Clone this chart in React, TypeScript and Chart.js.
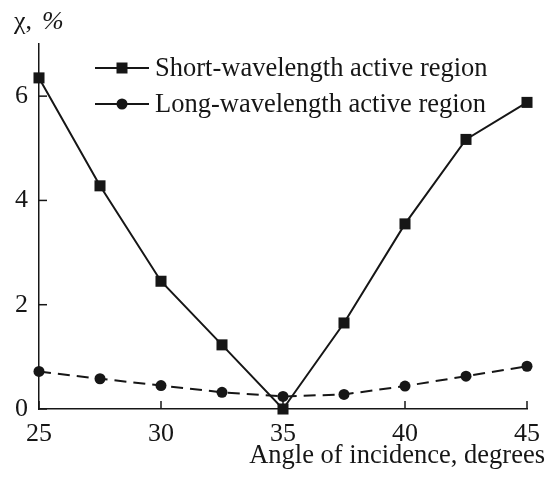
import React, { useEffect, useRef } from "react";
import { Chart, registerables } from "chart.js";

Chart.register(...registerables);

const angles = [25, 27.5, 30, 32.5, 35, 37.5, 40, 42.5, 45];
const shortWave = [6.35, 4.28, 2.45, 1.23, 0.0, 1.65, 3.55, 5.17, 5.88];
const longWave = [0.72, 0.58, 0.45, 0.32, 0.24, 0.28, 0.44, 0.63, 0.82];
const xTicks = [25, 30, 35, 40, 45];
const yTicks = [0, 2, 4, 6];
const seriesNames = ["Short-wavelength active region", "Long-wavelength active region"];
const xTitle = "Angle of incidence, degrees";

const FONT = "'Liberation Serif', 'Times New Roman', serif";
const INK = "#161616";

const overlay = {
  id: "overlay",
  afterDraw(chart: any) {
    const ctx = chart.ctx;
    const xs = chart.scales.x;
    const ys = chart.scales.y;
    const area = chart.chartArea;
    ctx.save();
    ctx.strokeStyle = INK;
    ctx.lineWidth = 1.5;
    // inward ticks
    for (const v of xTicks) {
      const px = xs.getPixelForValue(v);
      ctx.beginPath();
      ctx.moveTo(px, area.bottom);
      ctx.lineTo(px, area.bottom - 8);
      ctx.stroke();
    }
    for (const v of yTicks) {
      const py = ys.getPixelForValue(v);
      ctx.beginPath();
      ctx.moveTo(area.left, py);
      ctx.lineTo(area.left + 8, py);
      ctx.stroke();
    }
    // titles
    ctx.fillStyle = INK;
    ctx.font = `26.5px ${FONT}`;
    ctx.textBaseline = "alphabetic";
    ctx.textAlign = "right";
    ctx.fillText(xTitle, 545, 463);
    ctx.textAlign = "left";
    ctx.font = `26px ${FONT}`;
    ctx.fillText("χ,", 14, 29);
    ctx.font = `italic 26px ${FONT}`;
    ctx.fillText("%", 42, 29);
    // legend
    const rows = [
      { y: 68, style: "rect" },
      { y: 104, style: "circle" },
    ];
    rows.forEach((r, i) => {
      ctx.lineWidth = 2;
      ctx.setLineDash([]);
      ctx.beginPath();
      ctx.moveTo(95, r.y);
      ctx.lineTo(149, r.y);
      ctx.stroke();
      ctx.beginPath();
      if (r.style === "rect") {
        ctx.rect(122 - 5.5, r.y - 5.5, 11, 11);
      } else {
        ctx.arc(122, r.y, 5.5, 0, Math.PI * 2);
      }
      ctx.fill();
      ctx.font = `26.5px ${FONT}`;
      ctx.textAlign = "left";
      ctx.textBaseline = "middle";
      ctx.fillText(seriesNames[i], 155, r.y + 1);
    });
    ctx.restore();
  },
};

export default function App() {
  const ref = useRef<HTMLCanvasElement>(null);
  useEffect(() => {
    if (!ref.current) return;
    const chart = new Chart(ref.current, {
      type: "line",
      data: {
        datasets: [
          {
            label: seriesNames[0],
            data: angles.map((a, i) => ({ x: a, y: shortWave[i] })),
            borderColor: INK,
            backgroundColor: INK,
            borderWidth: 2,
            pointStyle: "rect",
            pointRadius: 7.8,
            pointBorderWidth: 0,
            tension: 0,
            clip: false as any,
          },
          {
            label: seriesNames[1],
            data: angles.map((a, i) => ({ x: a, y: longWave[i] })),
            borderColor: INK,
            backgroundColor: INK,
            borderWidth: 2,
            borderDash: [12, 7],
            pointStyle: "circle",
            pointRadius: 5.5,
            pointBorderWidth: 0,
            tension: 0,
            clip: false as any,
          },
        ],
      },
      options: {
        animation: false,
        responsive: false,
        events: [],
        layout: { padding: { top: 44, right: 18, left: 0, bottom: 0 } },
        plugins: { legend: { display: false }, tooltip: { enabled: false } },
        scales: {
          x: {
            type: "linear",
            min: 25,
            max: 45,
            afterBuildTicks: (s: any) => {
              s.ticks = xTicks.map((v) => ({ value: v }));
            },
            afterFit: (s: any) => {
              s.height = 68;
            },
            grid: { display: false, drawTicks: false },
            border: { display: true, color: INK, width: 1.5 },
            ticks: {
              color: INK,
              font: { family: FONT, size: 26 },
              padding: 10,
              maxRotation: 0,
            },
          },
          y: {
            type: "linear",
            min: 0,
            max: 7,
            afterBuildTicks: (s: any) => {
              s.ticks = yTicks.map((v) => ({ value: v }));
            },
            afterFit: (s: any) => {
              s.width = 39;
            },
            grid: { display: false, drawTicks: false },
            border: { display: true, color: INK, width: 1.5 },
            ticks: {
              color: INK,
              font: { family: FONT, size: 26 },
              padding: 11,
            },
          },
        },
      },
      plugins: [overlay],
    });
    return () => chart.destroy();
  }, []);
  return (
    <div style={{ position: "absolute", left: 0, top: 0, width: 550, height: 477, background: "#fff" }}>
      <canvas ref={ref} width={550} height={477} />
    </div>
  );
}
